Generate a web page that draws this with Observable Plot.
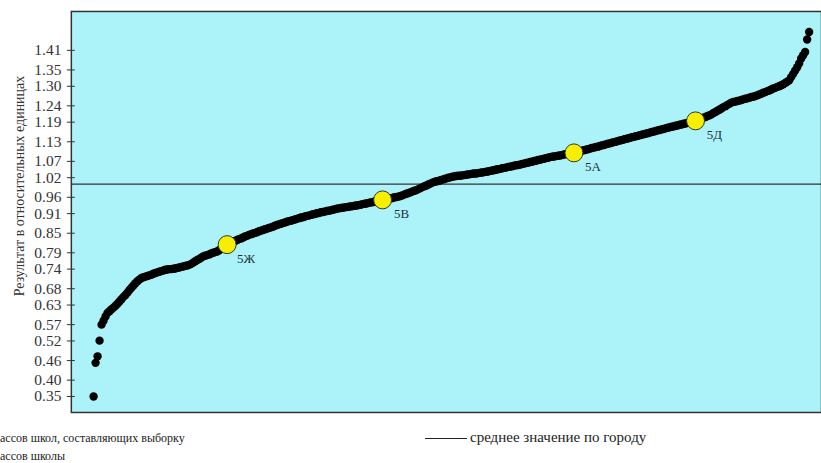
<!DOCTYPE html>
<html><head><meta charset="utf-8">
<script src="https://cdn.jsdelivr.net/npm/d3@7"></script>
<script src="https://cdn.jsdelivr.net/npm/@observablehq/plot@0.6"></script>
<style>
html,body{margin:0;padding:0;background:#fff;overflow:hidden;width:821px;height:463px;}
#chart{position:absolute;left:0;top:0;}
.leg{position:absolute;font-family:"Liberation Serif","Times New Roman",serif;color:#222;white-space:nowrap;line-height:1;}
.legline{display:inline-block;width:42px;border-top:1.3px solid #222;vertical-align:middle;margin-right:3px;}
</style></head><body>
<div id="chart"></div>
<div id="leg1" class="leg" style="left:0;top:432px;font-size:12px"></div>
<div id="leg2" class="leg" style="left:0;top:450px;font-size:12px"></div>
<div id="leg3" class="leg" style="left:425px;top:430px;font-size:15px"></div>
<script>
// Results of classes (sorted), relative units
const results = [
0.350,0.453,0.473,0.521,0.570,
0.582,0.595,0.606,
0.611,0.617,0.622,0.628,0.634,
0.641,0.648,0.655,0.661,0.668,
0.676,0.683,0.690,0.697,
0.703,0.708,0.713,
0.715,0.717,0.719,0.721,0.723,0.726,0.728,
0.730,0.732,0.734,0.736,0.738,
0.739,0.740,0.740,0.741,
0.742,0.744,0.745,0.747,0.748,0.750,0.751,0.753,
0.756,0.760,0.764,0.768,0.771,0.775,0.779,
0.781,0.783,0.785,0.788,0.790,0.792,0.794,
0.798,0.802,0.806,0.810,0.815,
0.818,0.821,0.823,0.826,0.829,0.832,0.834,0.837,0.840,0.842,0.845,
0.847,0.849,0.851,0.853,0.856,0.858,0.860,0.862,0.864,0.866,0.868,0.870,0.873,0.875,
0.877,0.879,0.881,0.883,0.885,0.887,0.888,0.890,0.892,0.894,0.896,
0.898,0.899,0.901,0.903,0.904,0.906,0.908,0.909,0.911,
0.912,0.914,0.915,0.916,0.918,0.919,0.920,0.922,0.923,0.925,0.926,
0.927,0.928,0.929,0.930,0.931,0.932,0.933,0.934,0.935,0.936,
0.937,0.939,0.940,0.941,0.943,0.944,0.945,0.947,0.948,0.949,0.951,0.952,
0.953,0.955,0.956,0.957,0.958,0.960,0.961,0.962,
0.964,0.966,0.969,0.971,0.973,0.975,0.978,0.980,0.982,
0.985,0.988,0.991,0.994,0.996,0.999,1.002,1.005,
1.007,1.009,1.010,1.012,1.014,1.016,1.018,1.020,1.021,1.023,
1.024,1.025,1.026,1.026,1.027,1.028,1.029,1.030,1.031,1.032,1.033,1.033,1.034,1.035,1.036,1.037,1.038,
1.039,1.041,1.042,1.043,1.045,1.046,1.047,1.049,1.050,1.051,1.053,1.054,1.055,1.057,1.058,1.059,
1.060,1.062,1.063,1.065,1.066,1.068,1.069,1.071,1.072,1.074,1.075,1.077,1.078,1.080,1.081,1.083,1.084,
1.085,1.086,1.087,1.088,1.089,1.091,1.092,1.093,1.094,1.095,1.096,
1.098,1.099,1.101,1.103,1.104,1.106,1.107,1.109,1.111,1.112,1.114,1.115,1.117,1.119,1.120,1.122,
1.124,1.125,1.127,1.129,1.130,1.132,1.134,1.135,1.137,1.139,1.140,1.142,1.144,1.145,1.147,1.148,1.150,
1.152,1.153,1.155,1.156,1.158,1.160,1.161,1.163,1.165,1.166,1.168,1.169,1.171,1.173,1.174,1.176,
1.177,1.179,1.180,1.182,1.183,1.185,1.186,1.188,1.189,1.191,1.192,1.194,
1.196,1.199,1.201,1.204,1.206,1.209,1.211,1.214,
1.218,1.221,1.225,1.228,1.232,1.236,1.239,1.243,1.246,1.250,
1.252,1.253,1.255,1.256,1.258,1.260,1.262,1.263,1.265,1.267,1.268,1.270,1.272,
1.275,1.277,1.280,1.282,1.285,1.287,1.290,1.293,1.295,1.298,1.300,1.303,
1.306,1.310,1.314,1.318,
1.328,1.338,1.348,1.358,1.370,1.385,1.395,
1.405,1.443,1.466
];

// Highlighted classes of the school
const classLabels = ["5Ж", "5В", "5А", "5Д"];
const classRanks  = [68, 146, 242, 303];
const classValues = [0.815, 0.952, 1.096, 1.194];

// City mean
const cityMean = 1.00;

// Y tick labels
const tickValues = [0.35,0.40,0.46,0.52,0.57,0.63,0.68,0.74,0.79,0.85,0.91,0.96,1.02,1.07,1.13,1.19,1.24,1.30,1.35,1.41];

const yLabel = "Результат в относительных единицах";
const legendSample = "ассов школ, составляющих выборку";
const legendSchool = "ассов школы";
const legendMean = "среднее значение по городу";

const highlights = classLabels.map((label, i) => ({label, rank: classRanks[i], value: classValues[i]}));
const points = results.map((v, i) => ({rank: i + 1, value: v}));

const chart = Plot.plot({
  width: 823, height: 420,
  marginLeft: 71, marginRight: 0, marginTop: 11, marginBottom: 7,
  style: {fontFamily: "'Liberation Serif', 'Times New Roman', serif", background: "transparent", overflow: "visible"},
  x: {domain: [-10.16, 366.2], axis: null},
  y: {domain: [0.301, 1.529], axis: null},
  marks: [
    Plot.frame({fill: "#abf3f8"}),
    Plot.ruleY([cityMean], {stroke: "#333", strokeWidth: 1.3}),
    Plot.dot(points, {x: "rank", y: "value", r: 4.2, fill: "#000", stroke: "none"}),
    Plot.dot(highlights, {x: "rank", y: "value", r: 9, fill: "#f6f000", stroke: "#333", strokeWidth: 1}),
    Plot.text(highlights, {x: "rank", y: "value", text: "label", dx: 19, dy: 14, fontSize: 13, fill: "#203040"}),
    Plot.frame({stroke: "#333", strokeWidth: 1.5}),
    Plot.axisY({ticks: tickValues, anchor: "left", tickSize: 8, dx: 4, tickPadding: 6, tickFormat: d3.format(".2f"), fontSize: 15.5, label: null, color: "#333"}),
    Plot.text([yLabel], {frameAnchor: "left", textAnchor: "middle", rotate: -90, dx: -52, dy: -26, fontSize: 14, fill: "#333"})
  ]
});
document.getElementById("chart").appendChild(chart);
document.getElementById("leg1").textContent = legendSample;
document.getElementById("leg2").textContent = legendSchool;
const l3 = document.getElementById("leg3");
const ln = document.createElement("span"); ln.className = "legline";
l3.appendChild(ln);
l3.appendChild(document.createTextNode(legendMean));
</script>
</body></html>
